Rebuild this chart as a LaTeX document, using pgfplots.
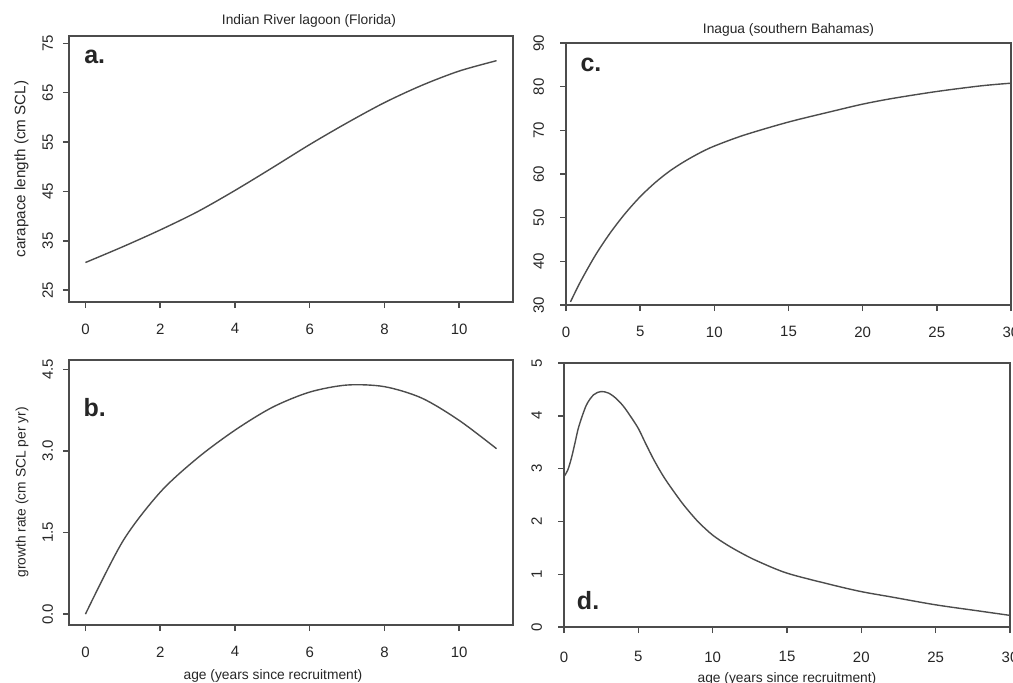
\documentclass[border=0pt]{standalone}
\usepackage{fontspec}
\setmainfont{Liberation Sans}
\usepackage{pgfplots}
\pgfplotsset{compat=1.18}
\definecolor{ink}{gray}{0.3}
\pgfplotsset{
  rstyle/.style={
    scale only axis,
    axis line style={ink, line width=0.8pt},
    tick style={ink, line width=0.7pt},
    tick align=outside,
    major tick length=3pt,
    xtick pos=bottom, ytick pos=left,
    /pgf/number format/assume math mode=true,
    ticklabel style={font=\fontsize{7.5}{8}\selectfont, text=black!85},
    xticklabel shift=4.3pt,
    yticklabel shift=1.5pt,
    yticklabel style={rotate=90, anchor=south},
    label style={font=\fontsize{6.9}{8}\selectfont, text=black!85},
    title style={font=\fontsize{6.9}{8}\selectfont, text=black!85, yshift=-5pt},
    clip=false,
  },
  curve/.style={black!70, line width=0.7pt, smooth, tension=0.5},
}
\tikzset{letter/.style={font=\bfseries\fontsize{12.5}{14}\selectfont, text=black!85}}
\begin{document}
\begin{tikzpicture}
\useasboundingbox (0,0) rectangle (506.5pt,341pt);
% panel a
\begin{axis}[rstyle, at={(34.5pt,190pt)}, anchor=south west, width=222pt, height=133pt,
  xmin=-0.44, xmax=11.44, ymin=22.6, ymax=76.5,
  xtick={0,2,4,6,8,10}, ytick={25,35,45,55,65,75},
  ylabel={carapace length (cm SCL)},
  ylabel style={font=\fontsize{7.6}{8}\selectfont},
  title={Indian River lagoon (Florida)},
  title style={xshift=9pt}]
\addplot[curve] coordinates {(0,30.6) (1,33.8) (2,37.2) (3,40.9) (4,45.2) (5,49.8) (6,54.5) (7,58.9) (8,63.0) (9,66.5) (10,69.4) (11,71.5)};
\node[letter] at (rel axis cs:0.058,0.92) {a.};
\end{axis}
% panel b
\begin{axis}[rstyle, at={(34.5pt,28.5pt)}, anchor=south west, width=222pt, height=132.5pt,
  xmin=-0.44, xmax=11.44, ymin=-0.2, ymax=4.67,
  xtick={0,2,4,6,8,10}, ytick={0,1.5,3,4.5},
  yticklabel style={/pgf/number format/.cd, fixed, fixed zerofill, precision=1},
  ylabel={growth rate (cm SCL per yr)},
  xlabel={age (years since recruitment)},
  xlabel style={xshift=-9pt, yshift=1pt}]
\addplot[curve] coordinates {(0,0) (1,1.34) (2,2.24) (3,2.87) (4,3.38) (5,3.80) (6,4.08) (7,4.21) (8,4.18) (9,3.97) (10,3.56) (11,3.04)};
\node[letter] at (rel axis cs:0.058,0.82) {b.};
\end{axis}
% panel c
\begin{axis}[rstyle, at={(283pt,188.5pt)}, anchor=south west, width=222.5pt, height=131pt,
  xmin=0, xmax=30, ymin=30, ymax=90,
  xtick={0,5,10,15,20,25,30}, ytick={30,40,50,60,70,80,90},
  yticklabel shift=4.5pt,
  title={Inagua (southern Bahamas)},
  title style={yshift=-1pt}]
\addplot[curve] coordinates {(0.3,30.7) (1,35.5) (2,41.5) (3,46.6) (4,51.0) (5,54.8) (6,58.0) (7,60.7) (8,62.9) (9,64.8) (10,66.4) (12,68.9) (15,71.9) (18,74.4) (20,76.0) (22,77.3) (25,78.9) (28,80.2) (30,80.8)};
\node[letter] at (rel axis cs:0.056,0.915) {c.};
\end{axis}
% panel d
\begin{axis}[rstyle, at={(282pt,27.5pt)}, anchor=south west, width=223pt, height=132pt,
  xmin=0, xmax=30, ymin=0, ymax=5,
  xtick={0,5,10,15,20,25,30}, ytick={0,1,2,3,4,5},
  yticklabel shift=4.5pt,
  xticklabel shift=5.8pt,
  xlabel={age (years since recruitment)},
  xlabel style={yshift=2pt}]
\addplot[curve] coordinates {(0,2.85) (0.25,2.97) (0.5,3.2) (0.75,3.5) (1,3.8) (1.5,4.2) (2,4.4) (2.5,4.46) (3,4.43) (3.5,4.33) (4,4.18) (4.5,3.98) (5,3.76) (5.5,3.47) (6,3.19) (6.5,2.94) (7,2.72) (8,2.33) (9,2.0) (10,1.74) (11,1.55) (12,1.39) (13,1.25) (15,1.02) (18,0.8) (20,0.67) (22,0.57) (25,0.42) (28,0.3) (30,0.22)};
\node[letter] at (rel axis cs:0.054,0.10) {d.};
\end{axis}
\end{tikzpicture}
\end{document}
